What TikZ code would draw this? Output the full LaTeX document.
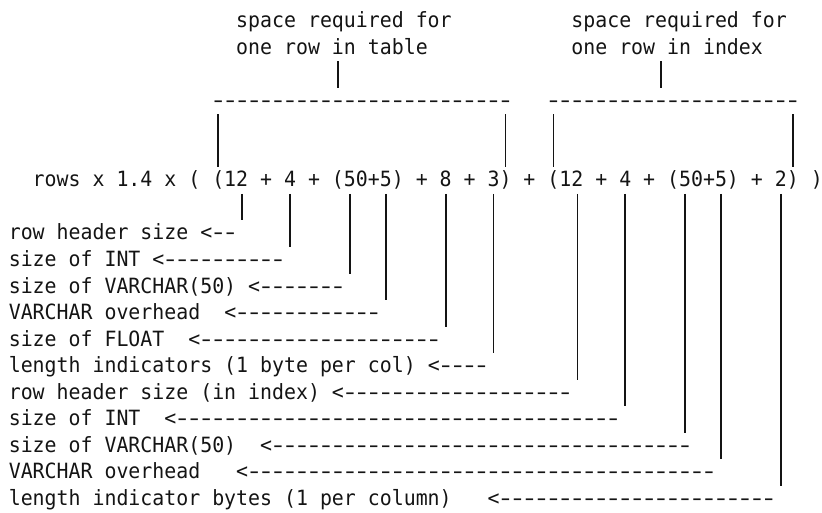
\documentclass[tikz,border=0pt]{standalone}
\usepackage{fontspec}
\usepackage{graphicx}
\newfontfamily\asciifont[FakeStretch=0.9468]{DejaVu Sans Mono}
\definecolor{ink}{gray}{0.08}
\tikzset{
  txt/.style={anchor=base west, inner sep=0pt, outer sep=0pt,
    font=\asciifont\fontsize{21}{21}\selectfont, text=ink},
  bar/.style={draw=ink, line width=1.6pt},
}
\newcommand\dashrun[1]{\foreach \k in {1,...,#1}{\makebox[11.97pt][c]{\scalebox{1.45}[1]{-}}}}
\newcommand\vbar[3]{\draw[bar] (#1+0.5,#2-0.7345) -- (#1+0.5,#3+0.2637);}
\begin{document}
\begin{tikzpicture}
\useasboundingbox (0,0) rectangle (822pt,-513pt);
\begin{scope}[shift={(8.8pt,-1pt)}, x=11.97pt, y=-26.55pt]
% headings
\node[txt] (h1a) at (19,1) {space required for};
\node[txt] (h1b) at (47,1) {space required for};
\node[txt] (h2a) at (19,2) {one row in table};
\node[txt] (h2b) at (47,2) {one row in index};
\vbar{27}{3}{3}
\vbar{54}{3}{3}
\node[txt] (bra) at (17,4) {\dashrun{25}};
\node[txt] (brb) at (45,4) {\dashrun{21}};
\vbar{17}{5}{6}
\vbar{41}{5}{6}
\vbar{45}{5}{6}
\vbar{65}{5}{6}
% formula
\node[txt] (formula) at (2,7) {rows x 1.4 x ( (12 + 4 + (50+5) + 8 + 3) + (12 + 4 + (50+5) + 2) )};
% bars down to labels
\vbar{19}{8}{8}
\vbar{23}{8}{9}
\vbar{28}{8}{10}
\vbar{31}{8}{11}
\vbar{36}{8}{12}
\vbar{40}{8}{13}
\vbar{47}{8}{14}
\vbar{51}{8}{15}
\vbar{56}{8}{16}
\vbar{59}{8}{17}
\vbar{64}{8}{18}
% labels and arrows
\node[txt] (l9)  at (0,9)  {row header size};
\node[txt] (a9)  at (16,9) {<\dashrun{2}};
\node[txt] (l10) at (0,10) {size of INT};
\node[txt] (a10) at (12,10) {<\dashrun{10}};
\node[txt] (l11) at (0,11) {size of VARCHAR(50)};
\node[txt] (a11) at (20,11) {<\dashrun{7}};
\node[txt] (l12) at (0,12) {VARCHAR overhead};
\node[txt] (a12) at (18,12) {<\dashrun{12}};
\node[txt] (l13) at (0,13) {size of FLOAT};
\node[txt] (a13) at (15,13) {<\dashrun{20}};
\node[txt] (l14) at (0,14) {length indicators (1 byte per col)};
\node[txt] (a14) at (35,14) {<\dashrun{4}};
\node[txt] (l15) at (0,15) {row header size (in index)};
\node[txt] (a15) at (27,15) {<\dashrun{19}};
\node[txt] (l16) at (0,16) {size of INT};
\node[txt] (a16) at (13,16) {<\dashrun{37}};
\node[txt] (l17) at (0,17) {size of VARCHAR(50)};
\node[txt] (a17) at (21,17) {<\dashrun{35}};
\node[txt] (l18) at (0,18) {VARCHAR overhead};
\node[txt] (a18) at (19,18) {<\dashrun{39}};
\node[txt] (l19) at (0,19) {length indicator bytes (1 per column)};
\node[txt] (a19) at (40,19) {<\dashrun{23}};
\end{scope}
\end{tikzpicture}
\end{document}
